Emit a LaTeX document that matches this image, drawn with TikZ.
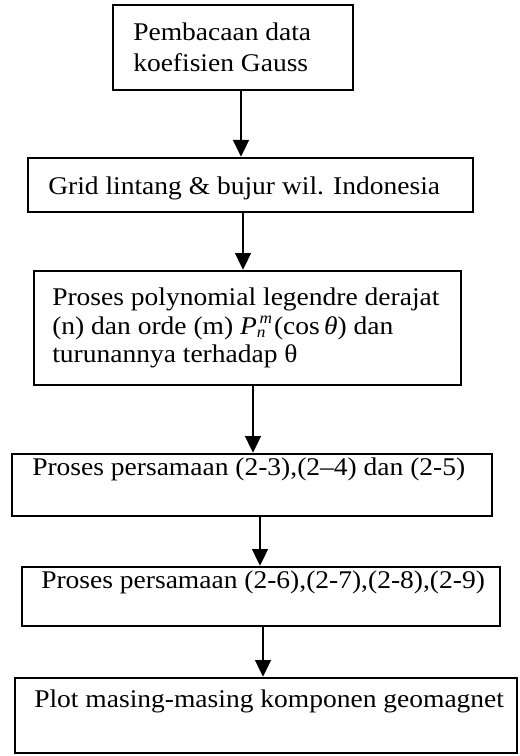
\documentclass[tikz,border=0pt]{standalone}
\usepackage{fontspec}
\setmainfont[FakeStretch=1.08]{Liberation Serif}
\usetikzlibrary{arrows.meta}
\newcommand{\legP}{\textit{P}\smash{\rlap{\raisebox{0.42em}{\fontsize{12}{12}\selectfont\,\textit{m}}}\raisebox{-0.12em}{\fontsize{12}{12}\selectfont\textit{n}}}}
\tikzset{
  box/.style={draw, line width=2pt, inner sep=0pt, minimum width=#1},
  txt/.style={inner sep=0pt, anchor=base west, font=\fontsize{19.1}{21}\selectfont},
  arr/.style={line width=1.2pt, -{Triangle[length=12.5pt,width=12pt]}},
}
\begin{document}
\begin{tikzpicture}[x=0.75pt,y=-0.75pt]
\useasboundingbox (0,0) rectangle (519,756);
% boxes (pixel coordinates, y downward)
\node[box=240*0.75pt, minimum height=85*0.75pt] (b1) at (233,47.5) {};
\node[box=445*0.75pt, minimum height=54*0.75pt] (b2) at (250.5,185) {};
\node[box=427*0.75pt, minimum height=114*0.75pt] (b3) at (247.5,328) {};
\node[box=480*0.75pt, minimum height=62*0.75pt] (b4) at (252,485) {};
\node[box=478*0.75pt, minimum height=59*0.75pt] (b5) at (261,596.5) {};
\node[box=502*0.75pt, minimum height=75*0.75pt] (b6) at (266,715.5) {};
% texts
\node[txt] (t1a) at (133,41) {Pembacaan data};
\node[txt] (t1b) at (133,72) {koefisien Gauss};
\node[txt] (t2) at (48,195) {Grid lintang \& bujur wil. Indonesia};
\node[txt] (t3a) at (52,305) {Proses polynomial legendre derajat};
\node[txt] (t3b) at (52,334) {(n) dan orde (m) \legP\,\,(cos\,\textit{θ}) dan};
\node[txt] (t3c) at (52,362) {turunannya terhadap θ};
\node[txt] (t4) at (32,475) {Proses persamaan (2-3),(2–4) dan (2-5)};
\node[txt] (t5) at (41,588) {Proses persamaan (2-6),(2-7),(2-8),(2-9)};
\node[txt] (t6) at (34,707) {Plot masing-masing komponen geomagnet};
% arrow columns
\coordinate (c1) at (241,0);
\coordinate (c2) at (243,0);
\coordinate (c3) at (253,0);
\coordinate (c4) at (260,0);
\coordinate (c5) at (263,0);
\draw[arr] (c1 |- b1.south) -- (c1 |- b2.north);
\draw[arr] (c2 |- b2.south) -- (c2 |- b3.north);
\draw[arr] (c3 |- b3.south) -- (c3 |- b4.north);
\draw[arr] (c4 |- b4.south) -- (c4 |- b5.north);
\draw[arr] (c5 |- b5.south) -- (c5 |- b6.north);
\end{tikzpicture}
\end{document}
